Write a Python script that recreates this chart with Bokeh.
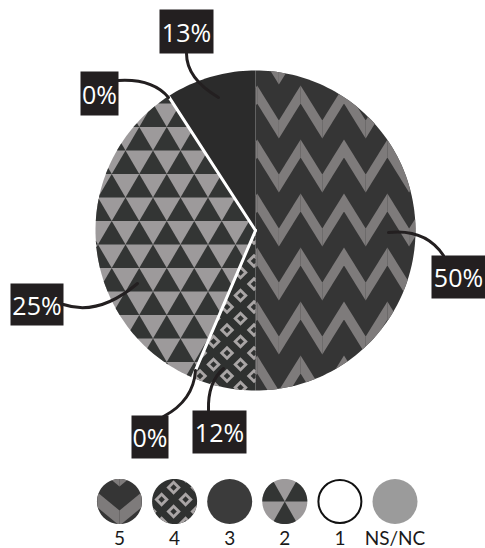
import numpy as np
from bokeh.plotting import figure
from bokeh.models import Range1d
from bokeh.embed import file_html
from bokeh.resources import INLINE
from bokeh.core.properties import value

# ---------------- data ----------------
# slices clockwise from 12 o'clock (angular share as drawn, in %)
categories = ["5", "4", "1", "2", "NS/NC", "3"]
shares = [50.0, 6.45, 0.0, 34.4, 0.0, 9.15]
pct_labels = ["50%", "12%", "0%", "25%", "0%", "13%"]
legend_items = ["5", "4", "3", "2", "1", "NS/NC"]

# ---------------- styles ----------------
STY = {
    "5": dict(kind="zigzag", bg="#353535", fg="#7e7b7b"),
    "4": dict(kind="diamond", bg="#2f3130", fg="#a9a5a5"),
    "3": dict(kind="solid", bg="#2b2b2b"),
    "2": dict(kind="triangle", bg="#9d9a9b", fg="#333534"),
    "1": dict(kind="zero"),
    "NS/NC": dict(kind="zero"),
}
LEG_COL = {"3": "#3b3b3b", "NS/NC": "#9b9b9b"}
BOX = "#231f20"
FONT = value("Open Sans")
LFONT = value("Lato")

W, H = 485, 548
p = figure(width=W, height=H, x_range=Range1d(0, W), y_range=Range1d(H, 0),
           output_backend="svg", toolbar_location=None, min_border=0,
           x_axis_location=None, y_axis_location=None)
p.grid.visible = False
p.outline_line_color = None
p.background_fill_color = "white"
p.border_fill_color = "white"

CX, CY, R = 255.0, 230.0, 160.0


# ---------------- geometry helpers ----------------
def clip(subject, clip_poly):
    area = 0.0
    n = len(clip_poly)
    for i in range(n):
        x1, y1 = clip_poly[i]
        x2, y2 = clip_poly[(i + 1) % n]
        area += x1 * y2 - x2 * y1
    sgn = 1.0 if area > 0 else -1.0
    out = list(subject)
    for i in range(n):
        if not out:
            break
        a = clip_poly[i]
        b = clip_poly[(i + 1) % n]
        if abs(a[0] - b[0]) < 1e-9 and abs(a[1] - b[1]) < 1e-9:
            continue

        def inside(q):
            return sgn * ((b[0] - a[0]) * (q[1] - a[1]) - (b[1] - a[1]) * (q[0] - a[0])) >= -1e-9

        def inter(p1, p2):
            dx, dy = p2[0] - p1[0], p2[1] - p1[1]
            ex, ey = b[0] - a[0], b[1] - a[1]
            den = dx * ey - dy * ex
            if abs(den) < 1e-12:
                return p2
            t = ((a[0] - p1[0]) * ey - (a[1] - p1[1]) * ex) / den
            return (p1[0] + t * dx, p1[1] + t * dy)

        inp = out
        out = []
        s = inp[-1]
        for e in inp:
            if inside(e):
                if not inside(s):
                    out.append(inter(s, e))
                out.append(e)
            elif inside(s):
                out.append(inter(s, e))
            s = e
    return out


def bbox(poly):
    xs = [q[0] for q in poly]
    ys = [q[1] for q in poly]
    return min(xs), min(ys), max(xs), max(ys)


def wedge_poly(t0, t1):
    n = max(8, int(abs(t1 - t0) / 1.5) + 2)
    ts = np.radians(np.linspace(t0, t1, n))
    return [(CX, CY)] + [(CX + R * np.sin(t), CY - R * np.cos(t)) for t in ts]


def circle_poly(cx, cy, r, n=72):
    ts = np.linspace(0, 2 * np.pi, n, endpoint=False)
    return [(cx + r * np.cos(t), cy + r * np.sin(t)) for t in ts]


def zigzag(bb, xp0, yt0, h, A, T, per):
    x0, y0, x1, y1 = bb
    polys = []
    ks = range(int(np.floor((x0 - xp0) / (2 * h))) - 1, int(np.ceil((x1 - xp0) / (2 * h))) + 2)
    ms = range(int(np.floor((y0 - yt0) / per)) - 2, int(np.ceil((y1 - yt0) / per)) + 2)
    for m in ms:
        yt = yt0 + m * per
        for k in ks:
            xp = xp0 + 2 * h * k
            polys.append([(xp, yt), (xp + h, yt + A), (xp + h, yt + A + T), (xp, yt + T)])
            polys.append([(xp - h, yt + A), (xp, yt), (xp, yt + T), (xp - h, yt + A + T)])
    return polys


def triangles(bb, xa0, yr0, base, ht):
    x0, y0, x1, y1 = bb
    polys = []
    for k in range(int(np.floor((y0 - yr0) / ht)) - 1, int(np.ceil((y1 - yr0) / ht)) + 1):
        yt = yr0 + k * ht
        off = (k % 2) * base / 2
        for j in range(int(np.floor((x0 - xa0) / base)) - 2, int(np.ceil((x1 - xa0) / base)) + 2):
            xa = xa0 + off + j * base
            polys.append([(xa, yt), (xa + base / 2, yt + ht), (xa - base / 2, yt + ht)])
    return polys


def diamonds(bb, ox, oy, vx, vy, r):
    x0, y0, x1, y1 = bb
    polys = []
    for a in range(-40, 41):
        for b in range(-40, 41):
            cx = ox + vx * (a - b)
            cy = oy + vy * (a + b)
            if x0 - 10 <= cx <= x1 + 10 and y0 - 10 <= cy <= y1 + 10:
                polys.append([(cx, cy - r), (cx + r, cy), (cx, cy + r), (cx - r, cy)])
    return polys


PX, PY, PC = [], [], []


def add(polys, region, color):
    for pl in polys:
        c = clip(pl, region)
        if len(c) >= 3:
            PX.append([q[0] for q in c])
            PY.append([q[1] for q in c])
            PC.append(color)


def fill_region(cat, region, icon=None):
    st = STY[cat]
    add([region], region, st["bg"])
    bb = bbox(region)
    if st["kind"] == "zigzag":
        if icon is None:
            add(zigzag(bb, 256.7, 85.0, 21.7, 35.0, 18.0, 54.0), region, st["fg"])
        else:
            cx, cy = icon
            add(zigzag(bb, cx - 22.0, cy - 9.0, 22.0, 18.0, 15.0, 39.0), region, st["fg"])
    elif st["kind"] == "triangle":
        if icon is None:
            add(triangles(bb, 125.0, 150.0, 27.5, 23.5), region, st["fg"])
        else:
            cx, cy = icon
            add(triangles(bb, cx - 13.0, cy - 23.0, 26.0, 23.0), region, st["fg"])
    elif st["kind"] == "diamond":
        if icon is None:
            ox, oy, vx, vy, ro, ri = 240.0, 295.0, 13.5, 11.5, 7.3, 3.3
        else:
            cx, cy = icon
            ox, oy, vx, vy, ro, ri = cx - 1.0, cy - 14.0, 12.0, 12.0, 7.2, 3.2
        add(diamonds(bb, ox, oy, vx, vy, ro), region, st["fg"])
        add(diamonds(bb, ox, oy, vx, vy, ri), region, st["bg"])


# ---------------- pie ----------------
angles = np.concatenate([[0.0], np.cumsum(shares) * 3.6])
zero_x0, zero_y0, zero_x1, zero_y1 = [], [], [], []
for i, cat in enumerate(categories):
    t0, t1 = angles[i], angles[i + 1]
    if shares[i] <= 0:
        t = np.radians(t0)
        zero_x0.append(CX); zero_y0.append(CY)
        zero_x1.append(CX + (R - 1) * np.sin(t)); zero_y1.append(CY - (R - 1) * np.cos(t))
        continue
    fill_region(cat, wedge_poly(t0, t1))

# ---------------- legend icons ----------------
LEG_X0, LEG_DX, LEG_Y, LEG_R = 119.0, 55.1, 501.0, 22.5
for j, cat in enumerate(legend_items):
    cx = LEG_X0 + j * LEG_DX
    st = STY[cat]
    if st["kind"] in ("zigzag", "triangle", "diamond"):
        fill_region(cat, circle_poly(cx, LEG_Y, LEG_R), icon=(cx, LEG_Y))

p.patches(PX, PY, fill_color=PC, line_color=None)

for j, cat in enumerate(legend_items):
    cx = LEG_X0 + j * LEG_DX
    if cat in LEG_COL:
        p.circle(x=[cx], y=[LEG_Y], radius=LEG_R, fill_color=LEG_COL[cat], line_color=None)
    elif cat == "1":
        p.circle(x=[cx], y=[LEG_Y], radius=LEG_R - 1, fill_color="white", line_color="#111111", line_width=2)

# zero-width slices as white radial lines
p.segment(zero_x0, zero_y0, zero_x1, zero_y1, line_color="white", line_width=3, line_cap="round")

# ---------------- callouts ----------------
boxes = {  # left, top, right, bottom
    0: (431, 255, 485, 298),
    1: (192, 410, 246, 453),
    2: (131, 415, 168, 458),
    3: (10, 283, 63, 325),
    4: (80, 71, 118, 115),
    5: (159, 9, 213, 53),
}
leaders = {  # start, control, end
    0: ((443, 255), (425, 228), (388, 232)),
    1: ((208, 410), (207, 382), (223, 368)),
    2: ((163, 416), (193, 400), (195, 370)),
    3: ((63, 304), (98, 316), (137, 283)),
    4: ((118, 80), (152, 78), (168, 97)),
    5: ((186, 53), (186, 78), (218, 97)),
}
idx = list(range(len(categories)))
p.quadratic(x0=[leaders[i][0][0] for i in idx], y0=[leaders[i][0][1] for i in idx],
            cx=[leaders[i][1][0] for i in idx], cy=[leaders[i][1][1] for i in idx],
            x1=[leaders[i][2][0] for i in idx], y1=[leaders[i][2][1] for i in idx],
            line_color=BOX, line_width=3, line_cap="round")
p.quad(left=[boxes[i][0] for i in idx], right=[boxes[i][2] for i in idx],
       top=[boxes[i][1] for i in idx], bottom=[boxes[i][3] for i in idx],
       fill_color=BOX, line_color=None)
p.text(x=[(boxes[i][0] + boxes[i][2]) / 2 for i in idx],
       y=[(boxes[i][1] + boxes[i][3]) / 2 for i in idx],
       text=pct_labels, text_color="white", text_font=FONT, text_font_size="25px",
       text_align="center", text_baseline="middle")

# legend labels
p.text(x=[LEG_X0 + j * LEG_DX for j in range(len(legend_items))], y=[537] * len(legend_items),
       text=legend_items, text_color="#1a1a1a", text_font=LFONT, text_font_size="19px",
       text_align="center", text_baseline="middle")

open("out.html", "w").write(file_html(p, INLINE))
